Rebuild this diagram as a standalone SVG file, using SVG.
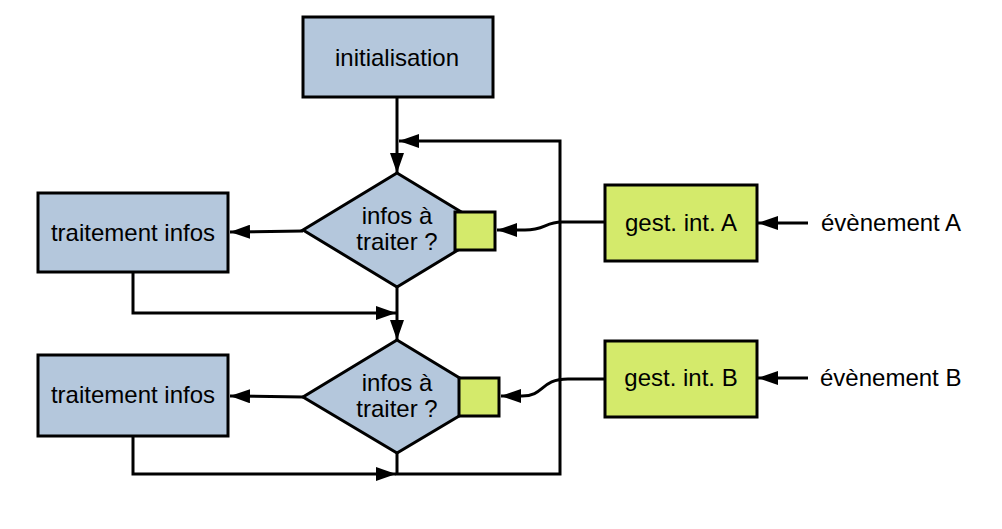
<svg xmlns="http://www.w3.org/2000/svg" width="1002" height="529" viewBox="0 0 1002 529">
<style>
.blue{fill:#b4c7dc;stroke:#000;stroke-width:3}
.green{fill:#d4ea6b;stroke:#000;stroke-width:3}
.t{font-family:"Liberation Sans",Arial,sans-serif;font-size:24px;fill:#000}
.c{text-anchor:middle}
.ln{fill:none;stroke:#000;stroke-width:3}
</style>
<defs>
<marker id="ah" markerUnits="userSpaceOnUse" markerWidth="20" markerHeight="14" refX="20" refY="7" orient="auto" viewBox="0 0 20 14">
<path d="M0,0 L20,7 L0,14 z" fill="#000"/>
</marker>
</defs>
<rect width="1002" height="529" fill="#fff"/>
<g id="connectors">
<path class="ln" d="M397,97 L397,173" marker-end="url(#ah)"/>
<path class="ln" d="M397,287 L397,340" marker-end="url(#ah)"/>
<path class="ln" d="M397,453 L397,474 L560,474 L560,141 L399,141" marker-end="url(#ah)"/>
<path class="ln" d="M303,231 L230,232" marker-end="url(#ah)"/>
<path class="ln" d="M303,397 L230,396" marker-end="url(#ah)"/>
<path class="ln" d="M133,272 L133,313 L396,313" marker-end="url(#ah)"/>
<path class="ln" d="M133,436 L133,474 L396,474" marker-end="url(#ah)"/>
<path class="ln" d="M605,222 L562,222 C545,222 545,230 525,230 L497,230" marker-end="url(#ah)"/>
<path class="ln" d="M605,379 L568,379 C540,379 545,396 522,396 L501,396" marker-end="url(#ah)"/>
<path class="ln" d="M808,223 L758,223" marker-end="url(#ah)"/>
<path class="ln" d="M808,378 L758,378" marker-end="url(#ah)"/>
</g>
<g id="init">
<rect class="blue" x="303" y="17" width="190" height="80"/>
<text class="t c" x="397" y="66">initialisation</text>
</g>
<g id="decision1">
<polygon class="blue" points="397,173 491,230 397,287 303,230"/>
<text class="t c" x="397" y="224">infos à</text>
<text class="t c" x="397" y="250">traiter ?</text>
</g>
<g id="flag1">
<rect class="green" x="455" y="212" width="40" height="38"/>
</g>
<g id="decision2">
<polygon class="blue" points="397,340 491,397 397,453 303,397"/>
<text class="t c" x="397" y="391">infos à</text>
<text class="t c" x="397" y="417">traiter ?</text>
</g>
<g id="flag2">
<rect class="green" x="459" y="378" width="40" height="38"/>
</g>
<g id="traitement1">
<rect class="blue" x="38" y="193" width="190" height="79"/>
<text class="t c" x="133" y="241">traitement infos</text>
</g>
<g id="traitement2">
<rect class="blue" x="38" y="355" width="190" height="81"/>
<text class="t c" x="133" y="403">traitement infos</text>
</g>
<g id="gestA">
<rect class="green" x="605" y="185" width="152" height="76"/>
<text class="t c" x="681" y="231">gest. int. A</text>
</g>
<g id="gestB">
<rect class="green" x="605" y="341" width="152" height="76"/>
<text class="t c" x="681" y="386">gest. int. B</text>
</g>
<g id="eventA">
<text class="t" x="821" y="231">évènement A</text>
</g>
<g id="eventB">
<text class="t" x="820" y="386">évènement B</text>
</g>
</svg>
